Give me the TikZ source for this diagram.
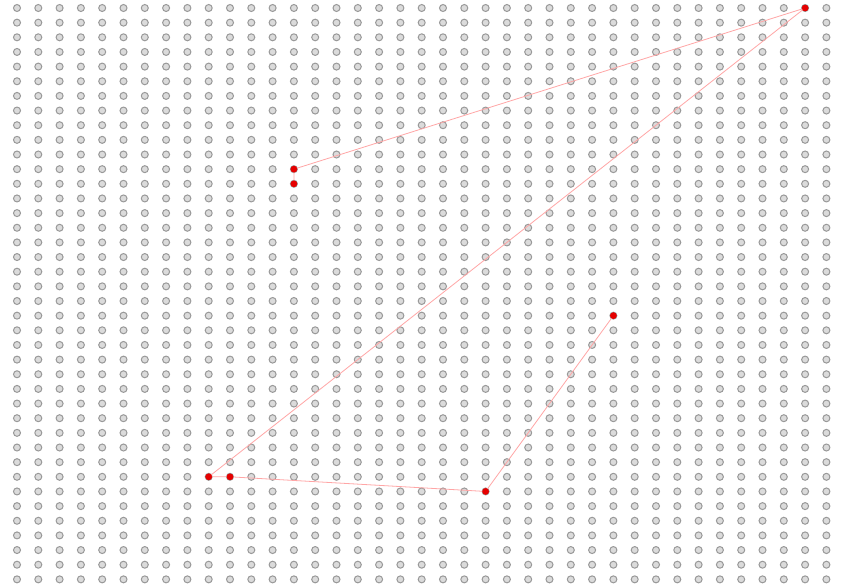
\documentclass[tikz,border=0pt]{standalone}
\begin{document}
\begin{tikzpicture}[x=1pt,y=-1pt,
  griddot/.style={circle,draw=gray!80,fill=gray!28,line width=1pt,minimum size=7pt,inner sep=0pt},
  redpt/.style={circle,fill=red!90!black,minimum size=6.5pt,inner sep=0pt},
  link/.style={draw=red!35,line width=0.8pt}]
\useasboundingbox (0,0) rectangle (846,584);
\fill[white] (0,0) rectangle (846,584);
\foreach \i in {0,...,38}{
  \foreach \j in {0,...,39}{
    \node[griddot] at ({17+21.3*\i},{8+14.65*\j}) {};
  }
}
\node[redpt] (p1) at ({17+21.3*13},{8+14.65*12}) {};
\node[redpt] (p2) at ({17+21.3*13},{8+14.65*11}) {};
\node[redpt] (p3) at ({17+21.3*37},{8+14.65*0}) {};
\node[redpt] (p4) at ({17+21.3*9},{8+14.65*32}) {};
\node[redpt] (p5) at ({17+21.3*10},{8+14.65*32}) {};
\node[redpt] (p6) at ({17+21.3*22},{8+14.65*33}) {};
\node[redpt] (p7) at ({17+21.3*28},{8+14.65*21}) {};
\draw[link] (p1.center) -- (p2.center) -- (p3.center) -- (p4.center) -- (p5.center) -- (p6.center) -- (p7.center);
\foreach \n in {p1,p2,p3,p4,p5,p6,p7}{
  \node[redpt] at (\n) {};
}
\end{tikzpicture}
\end{document}
